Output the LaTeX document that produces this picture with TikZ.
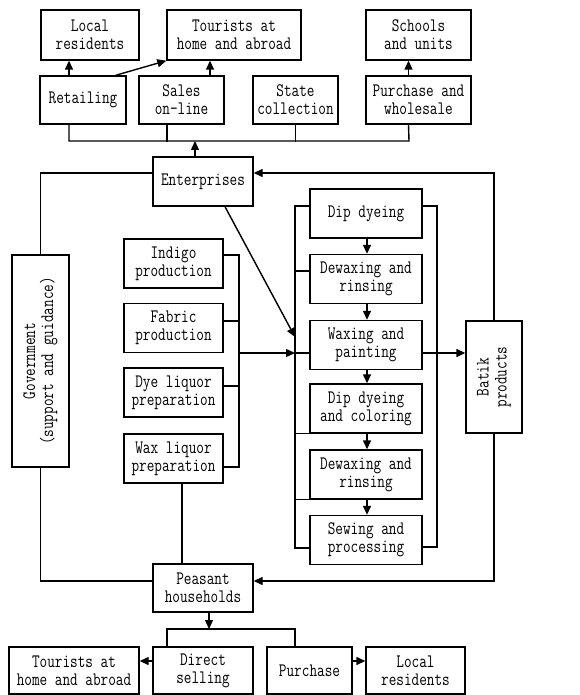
\documentclass[tikz,border=0pt]{standalone}
\usepackage{fontspec}
\newfontfamily\boxfont[FakeStretch=0.78]{Latin Modern Mono}
\usetikzlibrary{arrows.meta}
\tikzset{
  box/.style={draw, line width=1.4pt, align=center, inner sep=0pt,
    font=\boxfont\fontsize{19}{18}\selectfont},
  ln/.style={line width=1.4pt},
  arr/.style={line width=1.4pt, -{Triangle[length=9pt,width=8pt]}}
}
\begin{document}
\begin{tikzpicture}[x=1pt,y=-1pt]
\useasboundingbox (0,0) rectangle (579,695);

\node[box, minimum width=98pt, minimum height=50pt] (locA) at (90,35) {Local\\residents};
\node[box, minimum width=134pt, minimum height=50pt] (tourA) at (234,35) {Tourists at\\home and abroad};
\node[box, minimum width=105pt, minimum height=50pt] (school) at (418.5,35) {Schools\\and units};
\node[box, minimum width=86pt, minimum height=48pt] (retail) at (83,100) {Retailing};
\node[box, minimum width=85pt, minimum height=48pt] (online) at (181.5,100) {Sales\\on-line};
\node[box, minimum width=85pt, minimum height=48pt] (state) at (295.5,100) {State\\collection};
\node[box, minimum width=105pt, minimum height=48pt] (whole) at (418.5,100) {Purchase and\\wholesale};
\node[box, minimum width=100pt, minimum height=49pt] (enter) at (203,181.5) {Enterprises};
\node[box, rotate=90, minimum width=212pt, minimum height=57pt] (gov) at (40.5,361) {Government\\(support and guidance)};

\node[box, minimum width=99pt, minimum height=49pt] (indigo) at (173.5,263.5) {Indigo\\production};
\node[box, minimum width=99pt, minimum height=49pt] (fabric) at (173.5,328) {Fabric\\production};
\node[box, minimum width=99pt, minimum height=49pt] (dye) at (173.5,392.5) {Dye liquor\\preparation};
\node[box, minimum width=99pt, minimum height=49pt] (wax) at (173.5,458.5) {Wax liquor\\preparation};

\node[box, minimum width=112pt, minimum height=49pt] (p1) at (366,213.5) {Dip dyeing};
\node[box, minimum width=112pt, minimum height=49pt] (p2) at (366,279) {Dewaxing and\\rinsing};
\node[box, minimum width=112pt, minimum height=49pt] (p3) at (366,345) {Waxing and\\painting};
\node[box, minimum width=112pt, minimum height=49pt] (p4) at (366,408.5) {Dip dyeing\\and coloring};
\node[box, minimum width=112pt, minimum height=49pt] (p5) at (366,474.5) {Dewaxing and\\rinsing};
\node[box, minimum width=112pt, minimum height=49pt] (p6) at (366,540) {Sewing and\\processing};
\node[box, rotate=90, minimum width=112pt, minimum height=56pt] (batik) at (494,377) {Batik\\products};

\node[box, minimum width=100pt, minimum height=48pt] (peasant) at (203,588) {Peasant\\households};
\node[box, minimum width=100pt, minimum height=47pt] (direct) at (203,670.5) {Direct\\selling};
\node[box, minimum width=85pt, minimum height=47pt] (purch) at (309.5,670.5) {Purchase};
\node[box, minimum width=130pt, minimum height=47pt] (tourB) at (74,670.5) {Tourists at\\home and abroad};
\node[box, minimum width=99pt, minimum height=47pt] (locB) at (415.5,670.5) {Local\\residents};

\coordinate (topbusL) at (69,141);
\coordinate (topbusR) at (409,141);
\coordinate (inbus) at (239,353);
\coordinate (lbus) at (295,353);
\coordinate (lbusT) at (295,206);
\coordinate (lbusB) at (295,548);
\coordinate (rbusT) at (437,206);
\coordinate (rbusB) at (437,547);
\coordinate (entarr) at (295,337);
\coordinate (botbus) at (209,629);

\draw[arr] ([xshift=-14pt]retail.north) -- ([xshift=-14pt]retail.north |- locA.south);
\draw[arr] ([xshift=-11pt]retail.north east) -- (tourA.south west);
\draw[arr] ([xshift=28.5pt]online.north) -- ([xshift=28.5pt]online.north |- tourA.south);
\draw[arr] ([xshift=-10pt]whole.north) -- ([xshift=-10pt]whole.north |- school.south);
\draw[ln] ([xshift=-14pt]retail.south) -- (topbusL) -- (topbusR) -- ([xshift=-10pt]whole.south);
\draw[ln] ([xshift=-14.5pt]online.south) -- ++(0,17);
\draw[ln] (state.south) -- ++(0,17);
\draw[arr] ([xshift=-8pt]enter.north) -- ([xshift=-8pt]enter.north |- topbusL);

\draw[ln] ([yshift=8.5pt]enter.west) -| (gov.east);
\draw[ln] (gov.west) |- ([yshift=7pt]peasant.west);
\draw[arr] (batik.east) |- ([yshift=8.5pt]enter.east);
\draw[arr] (batik.west) |- ([yshift=7pt]peasant.east);
\draw[arr] ([xshift=22pt]enter.south) -- (entarr);

\draw[ln] ([yshift=8.5pt]indigo.east) -| (inbus) |- ([yshift=-8.5pt]wax.east);
\draw[ln] ([yshift=7pt]fabric.east) -- ++(16,0);
\draw[ln] ([yshift=6.5pt]dye.east) -- ++(16,0);
\draw[arr] (inbus) -- (lbus);
\draw[ln] (lbus) -- ([yshift=-8pt]p3.west);
\draw[ln] ([xshift=8.5pt]wax.south) -- ([xshift=8.5pt]wax.south |- peasant.north);

\draw[ln] ([yshift=7.5pt]p1.west) -- (lbusT) -- (lbusB) -- ([yshift=-8pt]p6.west);
\draw[ln] ([yshift=8pt]p2.west) -- ++(-15,0);
\draw[ln] (p4.south west) -- ++(-15,0);
\draw[ln] (p5.south west) -- ++(-15,0);
\draw[ln] ([yshift=7.5pt]p1.east) -- (rbusT) -- (rbusB) -- ([yshift=-7pt]p6.east);
\draw[arr] ([yshift=-8pt]p3.east) -- ([yshift=-8pt]p3.east -| batik.north);

\draw[arr] ([xshift=1pt]p1.south) -- ([xshift=1pt]p2.north);
\draw[arr] ([xshift=1pt]p2.south) -- ([xshift=1pt]p3.north);
\draw[arr] ([xshift=1pt]p3.south) -- ([xshift=1pt]p4.north);
\draw[arr] ([xshift=1pt]p4.south) -- ([xshift=1pt]p5.north);
\draw[arr] ([xshift=1pt]p5.south) -- ([xshift=1pt]p6.north);

\draw[arr] ([xshift=6pt]peasant.south) -- (botbus);
\draw[ln] ([xshift=-36pt]direct.north) |- (botbus) -| ([xshift=-14.5pt]purch.north);
\draw[arr] ([yshift=9.5pt]direct.west) -- ([yshift=9.5pt]direct.west -| tourB.east);
\draw[arr] ([yshift=9.5pt]purch.east) -- ([yshift=9.5pt]purch.east -| locB.west);
\end{tikzpicture}
\end{document}
